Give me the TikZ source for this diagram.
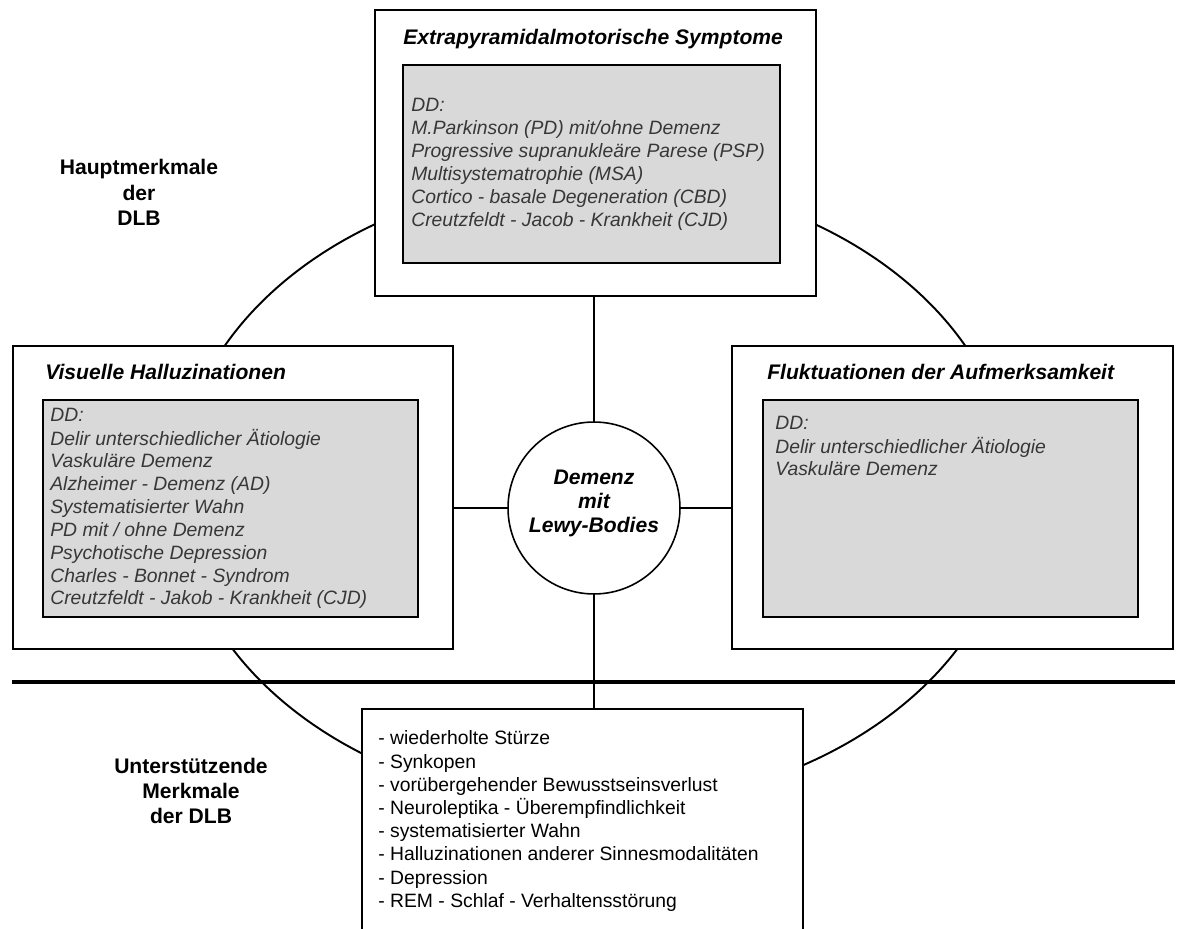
\documentclass[tikz,border=0pt]{standalone}
\usepackage{fontspec}
\setmainfont{Liberation Sans}
\usetikzlibrary{fit}
\definecolor{ddfill}{RGB}{217,217,217}
\definecolor{ddtext}{RGB}{55,55,55}
\begin{document}
\begin{tikzpicture}[x=0.02cm,y=-0.02cm,
  frame/.style={draw,line width=1.3pt,fill=white,inner sep=0pt},
  ddbox/.style={draw,line width=1.3pt,fill=ddfill,inner sep=0pt},
  conn/.style={line width=1.1pt},
  oval/.style={line width=1.1pt},
  divider/.style={line width=2.8pt},
  title/.style={anchor=base west,inner sep=0pt,font=\fontsize{12}{14}\selectfont\bfseries\itshape},
  ddtxt/.style={anchor=base west,inner sep=0pt,text=ddtext,font=\fontsize{11}{13}\selectfont\itshape},
  listtxt/.style={anchor=base west,inner sep=0pt,font=\fontsize{11}{13.2}\selectfont},
  sidelabel/.style={anchor=base,inner sep=0pt,font=\fontsize{12}{14.3}\selectfont\bfseries},
  centretxt/.style={anchor=base,inner sep=0pt,font=\fontsize{12}{13.6}\selectfont\bfseries\itshape}]
\clip (0,0) rectangle (1178,929);
\fill[white] (0,0) rectangle (1178,929);
% big oval
\draw[oval] (595,492) ellipse [x radius=8.36cm, y radius=6.3cm];
% divider line
\coordinate (dl) at (12,682);
\coordinate (dr) at (1175,682);
% boxes
\node[frame, fit={(375,10) (816,296)}] (topbox) {};
\node[ddbox, fit={(403,65) (780,263)}] (topgray) {};
\node[frame, fit={(13,346) (453,649)}] (lbox) {};
\node[ddbox, fit={(43,400) (418,617)}] (lgray) {};
\node[frame, fit={(732,346) (1173,649)}] (rbox) {};
\node[ddbox, fit={(763,400) (1138,617)}] (rgray) {};
\node[frame, fit={(362,709) (803,960)}] (bbox) {};
% centre circle
\node[draw, circle, line width=0.9pt, fill=white, minimum size=3.44cm, inner sep=0pt] (c) at (594,508) {};
\node[centretxt] (ctext) at (594,485) {\begin{tabular}[t]{@{}c@{}}Demenz\\mit\\Lewy-Bodies\end{tabular}};
% connectors
\draw[conn] (c.north) -- (c.north |- topbox.south);
\draw[conn] (c.west) -- (lbox.east |- c.west);
\draw[conn] (c.east) -- (rbox.west |- c.east);
\draw[conn] (c.south) -- (c.south |- bbox.north);
\draw[divider] (dl) -- (dr);
% titles
\node[title] (toptitle) at (403,45) {Extrapyramidalmotorische Symptome};
\node[title] (ltitle) at (45,380) {Visuelle Halluzinationen};
\node[title] (rtitle) at (767,380) {Fluktuationen der Aufmerksamkeit};
% DD texts
\node[ddtxt] (toptext) at (411,112) {\begin{tabular}[t]{@{}l@{}}DD:\\M.Parkinson (PD) mit/ohne Demenz\\Progressive supranukleäre Parese (PSP)\\Multisystematrophie (MSA)\\Cortico - basale Degeneration (CBD)\\Creutzfeldt - Jacob - Krankheit (CJD)\end{tabular}};
\node[ddtxt] (ltext) at (50,422) {\begin{tabular}[t]{@{}l@{}}DD:\\Delir unterschiedlicher Ätiologie\\Vaskuläre Demenz\\Alzheimer - Demenz (AD)\\Systematisierter Wahn\\PD mit / ohne Demenz\\Psychotische Depression\\Charles - Bonnet - Syndrom\\Creutzfeldt - Jakob - Krankheit (CJD)\end{tabular}};
\node[ddtxt] (rtext) at (775,430) {\begin{tabular}[t]{@{}l@{}}DD:\\Delir unterschiedlicher Ätiologie\\Vaskuläre Demenz\end{tabular}};
% bottom list
\node[listtxt] (btext) at (378,745) {\begin{tabular}[t]{@{}l@{}}- wiederholte Stürze\\- Synkopen\\- vorübergehender Bewusstseinsverlust\\- Neuroleptika - Überempfindlichkeit\\- systematisierter Wahn\\- Halluzinationen anderer Sinnesmodalitäten\\- Depression\\- REM - Schlaf - Verhaltensstörung\end{tabular}};
% side labels
\node[sidelabel] (haupt) at (139,175) {\begin{tabular}[t]{@{}c@{}}Hauptmerkmale\\der\\DLB\end{tabular}};
\node[sidelabel] (unter) at (191,773) {\begin{tabular}[t]{@{}c@{}}Unterstützende\\Merkmale\\der DLB\end{tabular}};
\end{tikzpicture}
\end{document}
